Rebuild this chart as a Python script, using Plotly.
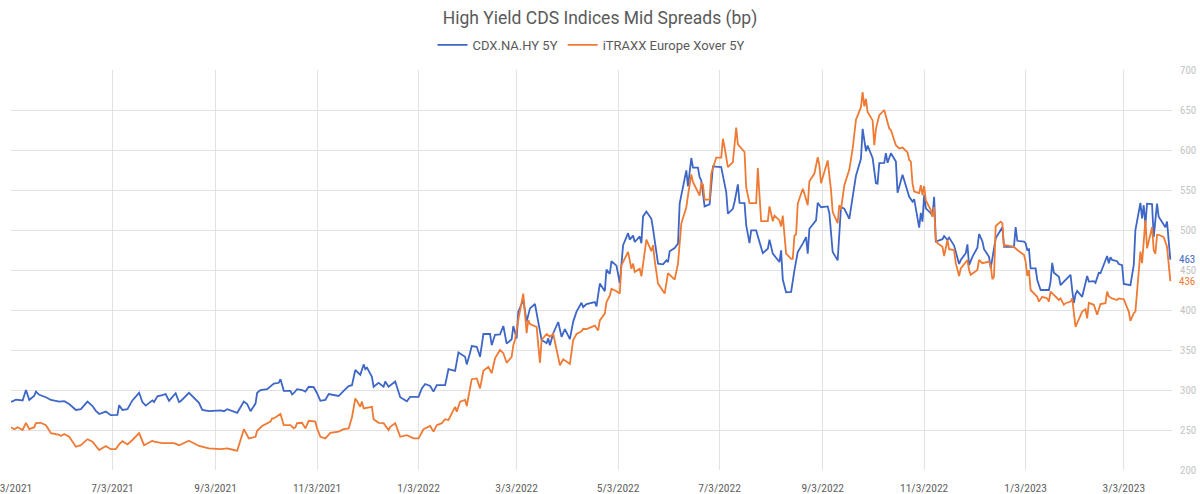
import plotly.graph_objects as go

# ---------------- data ----------------
cdx_dates = [
    "2021-05-03", "2021-05-06", "2021-05-10", "2021-05-12", "2021-05-14", "2021-05-17", "2021-05-18", "2021-05-20", "2021-05-24", "2021-05-27",
    "2021-06-01", "2021-06-04", "2021-06-07", "2021-06-11", "2021-06-14", "2021-06-18", "2021-06-21", "2021-06-23", "2021-06-25", "2021-06-29",
    "2021-07-02", "2021-07-06", "2021-07-07", "2021-07-09", "2021-07-12", "2021-07-15", "2021-07-19", "2021-07-21", "2021-07-23", "2021-07-27", "2021-07-28", "2021-07-30",
    "2021-08-02", "2021-08-04", "2021-08-06", "2021-08-09", "2021-08-10", "2021-08-12", "2021-08-13", "2021-08-18", "2021-08-23", "2021-08-24", "2021-08-26", "2021-08-30",
    "2021-09-06", "2021-09-08", "2021-09-10", "2021-09-14", "2021-09-16", "2021-09-20", "2021-09-22", "2021-09-24", "2021-09-27", "2021-09-28", "2021-09-30",
    "2021-10-04", "2021-10-06", "2021-10-08", "2021-10-11", "2021-10-12", "2021-10-14", "2021-10-18", "2021-10-19", "2021-10-20", "2021-10-22", "2021-10-25", "2021-10-27", "2021-10-29",
    "2021-11-01", "2021-11-03", "2021-11-05", "2021-11-08", "2021-11-10", "2021-11-12", "2021-11-16", "2021-11-19", "2021-11-22", "2021-11-24", "2021-11-26", "2021-11-29",
    "2021-12-01", "2021-12-02", "2021-12-03", "2021-12-06", "2021-12-07", "2021-12-10", "2021-12-13", "2021-12-14", "2021-12-16", "2021-12-20", "2021-12-23", "2021-12-27", "2021-12-29",
    "2022-01-03", "2022-01-05", "2022-01-07", "2022-01-10", "2022-01-12", "2022-01-14", "2022-01-19", "2022-01-20", "2022-01-21", "2022-01-25", "2022-01-27", "2022-01-31",
    "2022-02-01", "2022-02-03", "2022-02-04", "2022-02-07", "2022-02-09", "2022-02-11", "2022-02-15", "2022-02-16", "2022-02-18", "2022-02-21", "2022-02-23", "2022-02-25", "2022-02-28",
    "2022-03-01", "2022-03-03", "2022-03-04", "2022-03-07", "2022-03-09", "2022-03-11", "2022-03-14", "2022-03-16", "2022-03-18", "2022-03-21", "2022-03-22", "2022-03-23", "2022-03-25", "2022-03-28", "2022-03-30",
    "2022-04-01", "2022-04-04", "2022-04-06", "2022-04-08", "2022-04-11", "2022-04-12", "2022-04-14", "2022-04-19", "2022-04-20", "2022-04-22", "2022-04-25", "2022-04-26", "2022-04-28", "2022-04-29",
    "2022-05-02", "2022-05-04", "2022-05-06", "2022-05-09", "2022-05-10", "2022-05-12", "2022-05-13", "2022-05-16", "2022-05-17", "2022-05-18", "2022-05-20", "2022-05-23", "2022-05-24", "2022-05-27", "2022-05-30",
    "2022-06-01", "2022-06-02", "2022-06-03", "2022-06-06", "2022-06-08", "2022-06-09", "2022-06-13", "2022-06-14", "2022-06-16", "2022-06-17", "2022-06-20", "2022-06-21", "2022-06-22", "2022-06-24", "2022-06-27", "2022-06-29",
    "2022-07-04", "2022-07-05", "2022-07-07", "2022-07-08", "2022-07-11", "2022-07-12", "2022-07-14", "2022-07-15", "2022-07-18", "2022-07-19", "2022-07-21", "2022-07-22", "2022-07-25", "2022-07-27", "2022-07-29",
    "2022-08-01", "2022-08-02", "2022-08-04", "2022-08-08", "2022-08-09", "2022-08-10", "2022-08-12", "2022-08-15", "2022-08-17", "2022-08-19", "2022-08-22", "2022-08-24", "2022-08-25", "2022-08-26", "2022-08-30", "2022-08-31",
    "2022-09-02", "2022-09-06", "2022-09-07", "2022-09-09", "2022-09-12", "2022-09-13", "2022-09-14", "2022-09-16", "2022-09-19", "2022-09-21", "2022-09-23", "2022-09-26", "2022-09-27", "2022-09-29", "2022-09-30",
    "2022-10-03", "2022-10-05", "2022-10-06", "2022-10-07", "2022-10-10", "2022-10-11", "2022-10-12", "2022-10-14", "2022-10-17", "2022-10-18", "2022-10-21", "2022-10-24", "2022-10-25", "2022-10-27", "2022-10-28", "2022-10-31",
    "2022-11-01", "2022-11-02", "2022-11-03", "2022-11-04", "2022-11-07", "2022-11-08", "2022-11-09", "2022-11-10", "2022-11-14", "2022-11-15", "2022-11-17", "2022-11-18", "2022-11-21", "2022-11-24", "2022-11-25", "2022-11-28", "2022-11-29", "2022-11-30",
    "2022-12-02", "2022-12-05", "2022-12-06", "2022-12-08", "2022-12-09", "2022-12-12", "2022-12-13", "2022-12-16", "2022-12-19", "2022-12-20", "2022-12-21", "2022-12-27", "2022-12-28", "2022-12-29",
    "2023-01-02", "2023-01-03", "2023-01-04", "2023-01-05", "2023-01-06", "2023-01-09", "2023-01-10", "2023-01-12", "2023-01-17", "2023-01-18", "2023-01-19", "2023-01-20", "2023-01-23", "2023-01-24", "2023-01-26", "2023-01-30", "2023-01-31",
    "2023-02-01", "2023-02-02", "2023-02-03", "2023-02-06", "2023-02-09", "2023-02-10", "2023-02-13", "2023-02-14", "2023-02-16", "2023-02-17", "2023-02-21", "2023-02-22", "2023-02-23", "2023-02-24", "2023-02-27", "2023-02-28",
    "2023-03-02", "2023-03-03", "2023-03-07", "2023-03-09", "2023-03-10", "2023-03-13", "2023-03-14", "2023-03-15", "2023-03-16", "2023-03-17", "2023-03-20", "2023-03-21", "2023-03-23", "2023-03-24", "2023-03-27", "2023-03-28", "2023-03-29", "2023-03-31",
]
cdx_values = [
    285, 288, 287, 300, 287.5, 293, 298, 294, 291, 287.5,
    285.5, 286, 282.5, 275, 276, 285.5, 280, 274, 270, 273,
    268.5, 269, 281, 275, 276, 287, 296.5, 285, 280.5, 287, 285, 292,
    293.5, 295, 286.5, 293, 296, 285, 286, 296.5, 286, 284, 275, 273.5,
    274.5, 273.5, 276, 273.5, 271.5, 285.5, 282.5, 273.5, 283, 296.5, 300,
    301, 304, 308, 309, 313.5, 299, 299, 294.5, 296, 301, 300, 298, 304,
    303.5, 296, 286.5, 287.5, 295, 294, 292.5, 299, 305, 306, 325, 319,
    332, 326, 328, 316.5, 304, 309, 304, 310.5, 304, 310.5, 291, 286, 291.5,
    291.5, 302, 307.5, 305, 298, 306, 306, 314.5, 326, 324, 347, 341.5,
    332, 346.5, 355, 354, 341.5, 370, 370, 356, 369, 369.5, 380, 358, 363.5,
    380, 364.5, 398, 412.5, 385.5, 402, 407.5, 383.5, 362.5, 358.5, 364.5, 356, 371, 385, 366.5,
    376, 363.5, 385.5, 398, 409, 403.5, 407.5, 410, 404.5, 433, 423.5, 450.5, 445, 461,
    455.5, 433.5, 481, 496, 488, 493, 485, 492, 483.5, 517, 523, 514, 501.5, 458, 457,
    462, 460, 473.5, 477.5, 483, 533, 574.5, 554.5, 590, 578, 578, 566, 562, 529.5, 532, 579.5,
    578.5, 568, 547.5, 520.5, 526.5, 535, 557, 534, 533.5, 506, 483.5, 499.5, 499.5, 485, 471,
    476.5, 488, 470.5, 460, 474.5, 438, 422, 422.5, 449.5, 472.5, 483, 491, 470.5, 501.5, 512, 534,
    528.5, 529.5, 521, 472.5, 462, 499.5, 528.5, 526.5, 514, 541, 568, 589, 626.5, 598.5, 605.5,
    590, 558.5, 558, 583.5, 584, 596, 584, 596, 585.5, 546.5, 569, 546, 541.5, 535.5, 538.5, 503,
    521.5, 510.5, 544, 527, 521, 517.5, 541.5, 485.5, 488.5, 492.5, 487.5, 490.5, 480.5, 457.5, 462.5, 471, 482, 456,
    466.5, 478, 495, 486, 476, 466.5, 452, 489.5, 499, 503.5, 479, 479, 503.5, 486.5,
    485.5, 483.5, 475, 476, 452, 452, 437.5, 425, 425, 435.5, 459, 446.5, 441.5, 431, 435.5, 444, 425,
    408.5, 419.5, 424, 416.5, 442.5, 435.5, 436, 434, 446.5, 446, 467.5, 458.5, 466, 462.5, 461, 457.5,
    456, 432.5, 431, 456, 500, 534, 514.5, 531, 506, 533, 532.5, 491, 533, 516.5, 507.5, 503.5, 510.5, 463,
]

xover_dates = [
    "2021-05-03", "2021-05-05", "2021-05-07", "2021-05-10", "2021-05-12", "2021-05-14", "2021-05-17", "2021-05-18", "2021-05-21", "2021-05-24", "2021-05-27",
    "2021-06-01", "2021-06-02", "2021-06-04", "2021-06-07", "2021-06-11", "2021-06-14", "2021-06-18", "2021-06-21", "2021-06-25", "2021-06-29",
    "2021-07-02", "2021-07-05", "2021-07-07", "2021-07-09", "2021-07-12", "2021-07-15", "2021-07-19", "2021-07-22", "2021-07-27", "2021-07-28",
    "2021-08-02", "2021-08-09", "2021-08-12", "2021-08-18", "2021-08-24", "2021-08-27", "2021-08-30",
    "2021-09-06", "2021-09-10", "2021-09-14", "2021-09-16", "2021-09-20", "2021-09-23", "2021-09-27", "2021-09-28",
    "2021-10-01", "2021-10-06", "2021-10-07", "2021-10-08", "2021-10-12", "2021-10-14", "2021-10-18", "2021-10-20", "2021-10-21", "2021-10-22", "2021-10-25", "2021-10-27", "2021-10-29",
    "2021-11-02", "2021-11-03", "2021-11-05", "2021-11-08", "2021-11-11", "2021-11-16", "2021-11-19", "2021-11-22", "2021-11-24", "2021-11-26", "2021-11-29", "2021-11-30",
    "2021-12-01", "2021-12-06", "2021-12-07", "2021-12-10", "2021-12-13", "2021-12-16", "2021-12-17", "2021-12-20", "2021-12-23", "2021-12-27", "2021-12-29", "2021-12-31",
    "2022-01-03", "2022-01-06", "2022-01-10", "2022-01-12", "2022-01-14", "2022-01-17", "2022-01-19", "2022-01-21", "2022-01-25", "2022-01-26", "2022-01-28", "2022-01-31",
    "2022-02-01", "2022-02-04", "2022-02-07", "2022-02-09", "2022-02-11", "2022-02-14", "2022-02-16", "2022-02-18", "2022-02-21", "2022-02-23", "2022-02-25", "2022-02-28",
    "2022-03-01", "2022-03-02", "2022-03-04", "2022-03-07", "2022-03-09", "2022-03-10", "2022-03-11", "2022-03-15", "2022-03-17", "2022-03-18", "2022-03-21", "2022-03-23", "2022-03-25", "2022-03-29", "2022-03-31",
    "2022-04-04", "2022-04-06", "2022-04-08", "2022-04-11", "2022-04-12", "2022-04-14", "2022-04-19", "2022-04-21", "2022-04-22", "2022-04-25", "2022-04-26", "2022-04-28", "2022-04-29",
    "2022-05-02", "2022-05-04", "2022-05-05", "2022-05-09", "2022-05-11", "2022-05-12", "2022-05-13", "2022-05-16", "2022-05-17", "2022-05-19", "2022-05-20", "2022-05-23", "2022-05-24", "2022-05-25", "2022-05-27", "2022-05-31",
    "2022-06-02", "2022-06-06", "2022-06-08", "2022-06-10", "2022-06-13", "2022-06-14", "2022-06-16", "2022-06-17", "2022-06-21", "2022-06-22", "2022-06-23", "2022-06-24", "2022-06-27", "2022-06-28",
    "2022-07-01", "2022-07-04", "2022-07-05", "2022-07-06", "2022-07-08", "2022-07-11", "2022-07-13", "2022-07-14", "2022-07-18", "2022-07-19", "2022-07-21", "2022-07-25", "2022-07-26", "2022-07-27", "2022-07-28",
    "2022-08-01", "2022-08-02", "2022-08-04", "2022-08-05", "2022-08-08", "2022-08-09", "2022-08-10", "2022-08-12", "2022-08-15", "2022-08-16", "2022-08-17", "2022-08-18", "2022-08-19", "2022-08-22", "2022-08-23", "2022-08-25", "2022-08-26", "2022-08-29", "2022-08-31",
    "2022-09-01", "2022-09-02", "2022-09-06", "2022-09-08", "2022-09-09", "2022-09-12", "2022-09-13", "2022-09-14", "2022-09-16", "2022-09-19", "2022-09-21", "2022-09-23", "2022-09-26", "2022-09-27", "2022-09-28", "2022-09-29", "2022-09-30",
    "2022-10-03", "2022-10-04", "2022-10-05", "2022-10-07", "2022-10-10", "2022-10-13", "2022-10-14", "2022-10-17", "2022-10-19", "2022-10-21", "2022-10-24", "2022-10-25", "2022-10-26", "2022-10-27", "2022-10-28", "2022-10-31",
    "2022-11-01", "2022-11-02", "2022-11-03", "2022-11-04", "2022-11-07", "2022-11-08", "2022-11-09", "2022-11-10", "2022-11-11", "2022-11-14", "2022-11-15", "2022-11-17", "2022-11-18", "2022-11-21", "2022-11-22", "2022-11-24", "2022-11-25", "2022-11-28", "2022-11-29", "2022-11-30",
    "2022-12-01", "2022-12-05", "2022-12-06", "2022-12-08", "2022-12-12", "2022-12-13", "2022-12-14", "2022-12-15", "2022-12-16", "2022-12-19", "2022-12-20", "2022-12-21", "2022-12-22", "2022-12-27", "2022-12-29",
    "2023-01-02", "2023-01-03", "2023-01-04", "2023-01-05", "2023-01-06", "2023-01-09", "2023-01-10", "2023-01-11", "2023-01-13", "2023-01-16", "2023-01-17", "2023-01-18", "2023-01-20", "2023-01-23", "2023-01-24", "2023-01-26", "2023-01-27", "2023-01-30", "2023-01-31",
    "2023-02-02", "2023-02-03", "2023-02-06", "2023-02-08", "2023-02-09", "2023-02-10", "2023-02-13", "2023-02-15", "2023-02-17", "2023-02-20", "2023-02-21", "2023-02-22", "2023-02-24", "2023-02-27", "2023-02-28",
    "2023-03-03", "2023-03-06", "2023-03-07", "2023-03-09", "2023-03-10", "2023-03-13", "2023-03-14", "2023-03-16", "2023-03-17", "2023-03-20", "2023-03-21", "2023-03-22", "2023-03-23", "2023-03-24", "2023-03-27", "2023-03-29", "2023-03-31",
]
xover_values = [
    253.5, 251, 253.5, 250, 259, 251, 253.5, 258.5, 259, 256, 246,
    244, 242.5, 245, 241.5, 229, 231, 238.5, 235.5, 225, 230,
    226, 226, 232, 236, 232, 237.5, 246, 231, 236.5, 235.5,
    233.5, 233.5, 231, 236.5, 230, 228.5, 227,
    226, 227, 225, 224, 251, 239.5, 241.5, 249,
    255, 260.5, 264.5, 264.5, 270, 256, 256, 252, 253.5, 258.5, 259, 252, 261.5,
    260.5, 252, 241.5, 239.5, 246.5, 248, 251, 252, 266, 289.5, 279, 285.5,
    277, 279, 263.5, 259, 258.5, 250, 254, 258.5, 241.5, 243.5, 241.5, 239.5,
    239.5, 251, 255, 248, 256, 258.5, 263.5, 262.5, 279, 273, 285.5, 287.5,
    280, 313.5, 314.5, 302, 324, 329, 321, 339.5, 350, 346, 334, 341.5,
    356, 362.5, 388, 420.5, 371, 387.5, 382.5, 379, 334, 362.5, 370, 366.5, 370, 331, 338.5,
    332.5, 362.5, 370, 373.5, 376.5, 376, 380.5, 374.5, 387, 395.5, 410, 418, 426.5,
    423.5, 420.5, 456, 472.5, 451.5, 458, 447.5, 451.5, 442, 470.5, 488, 473.5, 481, 462, 433, 420.5,
    446, 438, 458, 508, 528.5, 543, 569.5, 560, 543, 558.5, 557, 538, 538, 570.5,
    590.5, 590.5, 614, 603.5, 578.5, 585, 628, 607, 597.5, 553.5, 533.5, 533.5, 577.5, 543.5, 511,
    511, 529.5, 511, 518, 512, 504.5, 518, 470.5, 464, 464, 493, 494.5, 533, 551.5, 545.5, 531, 561, 570.5, 591,
    581, 558.5, 587, 549.5, 522.5, 508.5, 531, 525.5, 556, 575.5, 601.5, 638, 653.5, 672.5, 654.5, 664, 647.5,
    637, 606, 626.5, 643.5, 650, 627, 625, 606, 602, 603, 597, 587.5, 585.5, 558, 548, 546,
    556, 543.5, 555, 537, 525, 516.5, 528.5, 487.5, 483.5, 479, 467.5, 487.5, 476, 475, 458.5, 442.5, 452, 459, 462.5, 450,
    444, 450, 462.5, 458.5, 460.5, 456, 438.5, 441.5, 505, 510.5, 508.5, 479, 481, 479, 475,
    469, 460.5, 442.5, 450, 425, 419, 416.5, 410.5, 416.5, 414.5, 410.5, 423, 419, 412.5, 414.5, 406.5, 408.5, 410.5, 414.5,
    379, 383.5, 398, 401, 389.5, 409, 406.5, 394, 407.5, 408.5, 423, 417, 414.5, 412.5, 414.5,
    413.5, 398, 386.5, 396, 398, 473, 458.5, 512.5, 477, 503.5, 475, 470, 494, 494, 491, 479, 436,
]

assert len(cdx_dates) == len(cdx_values), (len(cdx_dates), len(cdx_values))
assert len(xover_dates) == len(xover_values), (len(xover_dates), len(xover_values))

series_names = ["CDX.NA.HY 5Y", "iTRAXX Europe Xover 5Y"]
tick_dates = ["2021-05-03", "2021-07-03", "2021-09-03", "2021-11-03", "2022-01-03", "2022-03-03",
              "2022-05-03", "2022-07-03", "2022-09-03", "2022-11-03", "2023-01-03", "2023-03-03"]
tick_labels = ["5/3/2021", "7/3/2021", "9/3/2021", "11/3/2021", "1/3/2022", "3/3/2022",
               "5/3/2022", "7/3/2022", "9/3/2022", "11/3/2022", "1/3/2023", "3/3/2023"]
y_ticks = [200, 250, 300, 350, 400, 450, 500, 550, 600, 650, 700]

# ---------------- styling ----------------
BLUE = "#3d66c6"
ORANGE = "#ef7a34"
GRID = "#e2e2e2"
NARROW = "Liberation Sans Narrow, Roboto Condensed, Roboto, sans-serif"

fig = go.Figure()
fig.add_trace(go.Scatter(x=cdx_dates, y=cdx_values, mode="lines", name=series_names[0],
                         line=dict(color=BLUE, width=1.8)))
fig.add_trace(go.Scatter(x=xover_dates, y=xover_values, mode="lines", name=series_names[1],
                         line=dict(color=ORANGE, width=1.8)))

fig.add_annotation(x=cdx_dates[-1], y=cdx_values[-1], text=f"{cdx_values[-1]:.0f}",
                   xref="x", yref="y", xanchor="left", yanchor="middle", xshift=7,
                   showarrow=False, font=dict(family=NARROW, size=11, color=BLUE))
fig.add_annotation(x=xover_dates[-1], y=xover_values[-1], text=f"{xover_values[-1]:.0f}",
                   xref="x", yref="y", xanchor="left", yanchor="middle", xshift=7,
                   showarrow=False, font=dict(family=NARROW, size=11, color=ORANGE))

fig.update_layout(
    width=1200, height=494,
    margin=dict(l=11, r=28, t=70, b=24),
    paper_bgcolor="white", plot_bgcolor="white",
    title=dict(text="High Yield CDS Indices Mid Spreads (bp)", x=0.5, xanchor="center",
               y=1 - 18 / 494, yanchor="middle",
               font=dict(family="Roboto, sans-serif", size=17.5, color="#5a5a5a")),
    legend=dict(orientation="h", x=0.5, xanchor="center", y=1.0625, yanchor="middle",
                font=dict(family="Roboto, sans-serif", size=13, color="#5a5a5a"),
                itemwidth=30, bgcolor="rgba(0,0,0,0)"),
    showlegend=True,
)
fig.update_xaxes(
    type="date", range=["2021-05-03", "2023-04-01"], automargin=False,
    tickmode="array", tickvals=tick_dates, ticktext=tick_labels,
    showgrid=True, gridcolor=GRID, gridwidth=1, zeroline=False,
    showline=False, ticks="", ticklabeloverflow="allow", ticklabelstandoff=9,
    tickfont=dict(family=NARROW, size=11.5, color="#5f5f5f"),
)
fig.update_yaxes(
    side="right", range=[200, 700], tickmode="array", tickvals=y_ticks, automargin=False,
    showgrid=True, gridcolor=GRID, gridwidth=1, zeroline=False, showline=False,
    ticks="", ticklabelstandoff=7,
    tickfont=dict(family=NARROW, size=11, color="#c4c4c4"),
)

fig.write_html("out.html")
